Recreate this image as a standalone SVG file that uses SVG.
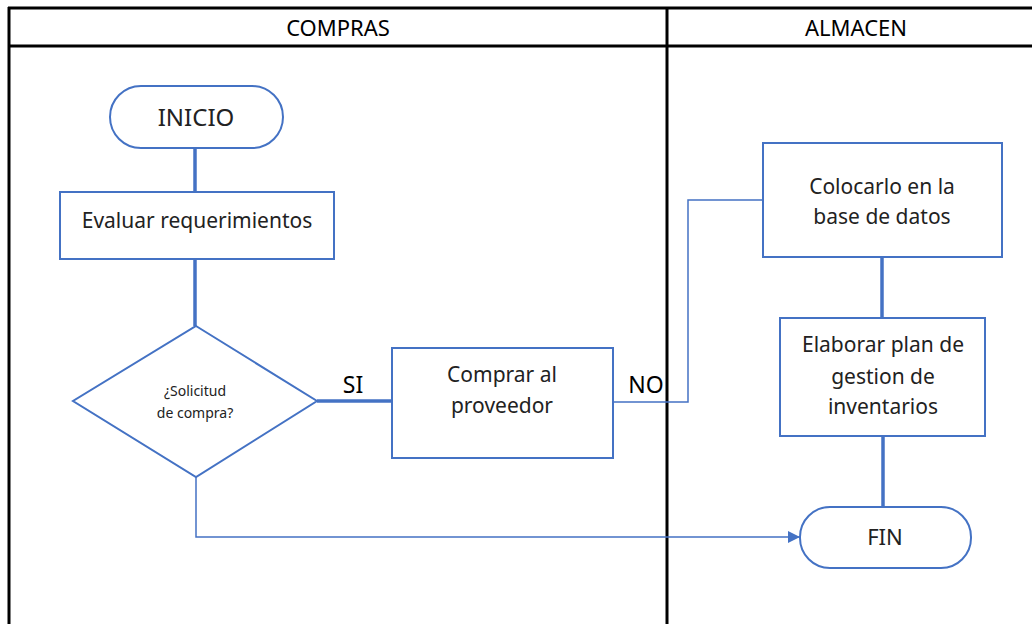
<svg xmlns="http://www.w3.org/2000/svg" width="1032" height="624" viewBox="0 0 1032 624">
  <defs>
    <style>
      .lane { fill: none; stroke: #000; stroke-width: 3; }
      .hdr { font-family: "Noto Sans", "Liberation Sans", sans-serif; font-size: 22px; fill: #000; text-anchor: middle; }
      .shape { fill: #fff; stroke: #4472C4; stroke-width: 2; }
      .lbl { font-family: "Noto Sans", "Liberation Sans", sans-serif; font-size: 21px; fill: #222; text-anchor: middle; }
      .small { font-size: 14px; }
      .tag { font-size: 23px; fill: #000; }
      .thick { fill: none; stroke: #4472C4; stroke-width: 3.5; }
      .thin { fill: none; stroke: #4472C4; stroke-width: 1.5; }
    </style>
    <marker id="arrow" viewBox="0 0 12 12" refX="12" refY="6" markerWidth="12" markerHeight="12" markerUnits="userSpaceOnUse" orient="auto">
      <path d="M0,0 L12,6 L0,12 Z" fill="#4472C4"/>
    </marker>
  </defs>
  <rect width="1032" height="624" fill="#fff"/>

  <!-- swimlane frame -->
  <g id="lanes">
    <line class="lane" x1="8" y1="8" x2="1032" y2="8"/>
    <line class="lane" x1="8" y1="46" x2="1032" y2="46"/>
    <line class="lane" x1="9" y1="7" x2="9" y2="624"/>
    <line class="lane" x1="667" y1="7" x2="667" y2="624"/>
    <text class="hdr" x="338" y="36">COMPRAS</text>
    <text class="hdr" x="856" y="36">ALMACEN</text>
  </g>

  <!-- connectors -->
  <g id="connectors">
    <line class="thick" x1="195" y1="148" x2="195" y2="192"/>
    <line class="thick" x1="195" y1="259" x2="195" y2="326"/>
    <line class="thick" x1="317" y1="401" x2="392" y2="401"/>
    <polyline class="thin" points="613,402 688,402 688,200 763,200"/>
    <line class="thick" x1="882" y1="257" x2="882" y2="318"/>
    <line class="thick" x1="883" y1="436" x2="883" y2="507"/>
    <polyline class="thin" points="196,477 196,537 800,537" marker-end="url(#arrow)"/>
    <text class="lbl tag" x="353" y="393">SI</text>
    <text class="lbl tag" x="646" y="393">NO</text>
  </g>

  <g id="inicio">
    <rect class="shape" x="110" y="86" width="173" height="62" rx="31"/>
    <text class="lbl" x="196" y="126" style="font-size:24px">INICIO</text>
  </g>

  <g id="evaluar">
    <rect class="shape" x="60" y="192" width="274" height="67"/>
    <text class="lbl" x="197" y="228">Evaluar requerimientos</text>
  </g>

  <g id="solicitud">
    <polygon class="shape" points="196,326 317,401 196,477 73,401"/>
    <text class="lbl small" x="195" y="396">¿Solicitud</text>
    <text class="lbl small" x="195" y="418">de compra?</text>
  </g>

  <g id="comprar">
    <rect class="shape" x="392" y="348" width="221" height="110"/>
    <text class="lbl" x="502" y="382">Comprar al</text>
    <text class="lbl" x="502" y="413">proveedor</text>
  </g>

  <g id="colocarlo">
    <rect class="shape" x="763" y="143" width="239" height="114"/>
    <text class="lbl" x="882" y="194">Colocarlo en la</text>
    <text class="lbl" x="882" y="224">base de datos</text>
  </g>

  <g id="elaborar">
    <rect class="shape" x="780" y="318" width="205" height="118"/>
    <text class="lbl" x="883" y="352">Elaborar plan de</text>
    <text class="lbl" x="883" y="384">gestion de</text>
    <text class="lbl" x="883" y="414">inventarios</text>
  </g>

  <g id="fin">
    <rect class="shape" x="800" y="507" width="171" height="61" rx="30"/>
    <text class="lbl" x="885" y="545" style="font-size:22px">FIN</text>
  </g>
</svg>
